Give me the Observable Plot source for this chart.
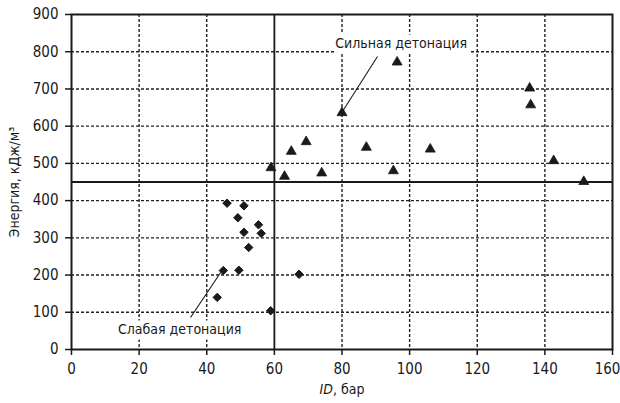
<!DOCTYPE html>
<html>
<head>
<meta charset="utf-8">
<script src="https://cdn.jsdelivr.net/npm/d3@7"></script>
<script src="https://cdn.jsdelivr.net/npm/@observablehq/plot@0.6"></script>
<style>
  html, body { margin: 0; padding: 0; background: #fff; }
  #chart { width: 620px; height: 403px; }
</style>
</head>
<body>
<div id="chart"></div>
<script>
// Strong detonation (triangles)
const strongX = [59, 63, 65, 69.4, 74, 80, 87.2, 95.2, 96.3, 106.1, 135.5, 135.8, 142.6, 151.5];
const strongY = [488, 465, 532, 558, 474, 636, 543, 480, 772, 538, 702, 657, 507, 451];
// Weak detonation (diamonds)
const weakX = [46.0, 51.0, 49.2, 55.3, 51.0, 56.1, 52.4, 44.9, 49.5, 67.3, 43.1, 58.9];
const weakY = [393, 386, 354, 335, 315, 312, 274, 212, 213, 202, 140, 104];
// Threshold lines
const thresholdX = [60];
const thresholdY = [450];
// Ticks
const xTicks = [0, 20, 40, 60, 80, 100, 120, 140, 160];
const yTicks = [0, 100, 200, 300, 400, 500, 600, 700, 800, 900];
const xGrid = [20, 40, 80, 100, 120, 140];
const yGrid = [100, 200, 300, 400, 500, 600, 700, 800];
// Annotations
const annLabels = ["Сильная детонация", "Слабая детонация"];
const annTextX = [97.5, 32];
const annTextY = [822, 55];
const annFromX = [90.5, 35.2];
const annFromY = [787, 86];
const annToX = [79.9, 44.1];
const annToY = [636, 207];

const strong = strongX.map((x, i) => ({x, y: strongY[i]}));
const weak = weakX.map((x, i) => ({x, y: weakY[i]}));
const ann = annLabels.map((t, i) => ({t, x: annTextX[i], y: annTextY[i], x1: annFromX[i], y1: annFromY[i], x2: annToX[i], y2: annToY[i]}));

const ink = "#1a1a1a";
const font = "'Liberation Sans Narrow', 'Arial Narrow', 'DejaVu Sans Condensed', sans-serif";

const plot = Plot.plot({
  width: 620,
  height: 403,
  marginLeft: 71,
  marginRight: 8,
  marginTop: 14,
  marginBottom: 54,
  style: {fontFamily: font, fontSize: "14px", color: ink, background: "#fff"},
  x: {domain: [0, 160]},
  y: {domain: [0, 900]},
  marks: [
    Plot.ruleX(xGrid, {stroke: "#222", strokeWidth: 1.4, strokeDasharray: "3,2"}),
    Plot.ruleY(yGrid, {stroke: "#222", strokeWidth: 1.4, strokeDasharray: "3,2"}),
    Plot.ruleX(thresholdX, {stroke: ink, strokeWidth: 1.8}),
    Plot.ruleY(thresholdY, {stroke: ink, strokeWidth: 1.8}),
    Plot.frame({stroke: ink, strokeWidth: 2}),
    Plot.axisX({ticks: xTicks, tickSize: 6, tickPadding: 8, tickFormat: d => d, label: null, fontSize: 15, stroke: ink, strokeWidth: 1.5}),
    Plot.axisY({ticks: yTicks, tickSize: 6, tickPadding: 7, tickFormat: d => d, fontSize: 15, label: null, stroke: ink, strokeWidth: 1.5}),
    Plot.text(["Энергия, кДж/м³"], {frameAnchor: "left", textAnchor: "middle", lineAnchor: "middle", dx: -57, rotate: -90, text: d => d, fill: ink}),
    Plot.text(["ID, бар"], {x: [80], frameAnchor: "bottom", dy: 44, text: d => d, fill: ink}),
    Plot.text(ann, {x: "x", y: "y", text: "t", fill: ink, stroke: "white", strokeWidth: 11, paintOrder: "stroke"}),
    Plot.link(ann, {x1: "x1", y1: "y1", x2: "x2", y2: "y2", stroke: ink, strokeWidth: 1.1}),
    Plot.dot(weak, {x: "x", y: "y", symbol: "diamond2", r: 3.8, fill: ink, stroke: ink, strokeWidth: 1}),
    Plot.dot(strong, {x: "x", y: "y", symbol: "triangle", r: 3.7, fill: ink, stroke: ink, strokeWidth: 0.8})
  ]
});

const svg = d3.select(plot);
svg.selectAll("text").filter(function() { return this.textContent === "ID, бар"; })
  .each(function() {
    const t = d3.select(this);
    const tgt = t.select("tspan").empty() ? t : t.select("tspan");
    tgt.text(null);
    tgt.append("tspan").attr("font-style", "italic").text("ID");
    tgt.append("tspan").text(", бар");
  });
// keep the last x tick label inside the picture
svg.selectAll("text").filter(function() { return this.textContent === "160"; })
  .attr("dx", -5);

document.getElementById("chart").appendChild(plot);
</script>
</body>
</html>
